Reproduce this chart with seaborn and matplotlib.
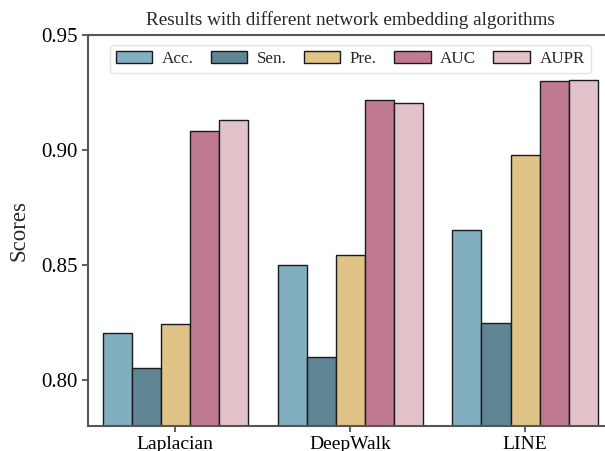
import matplotlib
matplotlib.use("Agg")
import matplotlib.pyplot as plt
import seaborn as sns
import pandas as pd

methods = ["Laplacian", "DeepWalk", "LINE"]
metrics = ["Acc.", "Sen.", "Pre.", "AUC", "AUPR"]
acc = [0.8203, 0.8502, 0.8653]
sen = [0.8051, 0.8101, 0.8248]
pre = [0.8243, 0.8545, 0.8977]
auc = [0.9084, 0.9218, 0.9298]
aupr = [0.9132, 0.9206, 0.9305]
colors = ["#82AFC0", "#608594", "#DFC387", "#C07A90", "#E2C2C9"]
yticks = [0.80, 0.85, 0.90, 0.95]

sns.set_theme(style="ticks")
plt.rcParams["font.family"] = ["Liberation Serif", "DejaVu Serif"]

rows = []
for name, vals in zip(metrics, [acc, sen, pre, auc, aupr]):
    for m, v in zip(methods, vals):
        rows.append({"Method": m, "Metric": name, "Score": v})
df = pd.DataFrame(rows)

fig = plt.figure(figsize=(6.05, 4.51), dpi=100)
ax = fig.add_axes([0.145, 0.0554, 0.8674, 0.8670])

sns.barplot(data=df, x="Method", y="Score", hue="Metric", palette=colors,
            saturation=1, width=0.83, gap=0, edgecolor="#1a1a1a",
            linewidth=1.0, errorbar=None, ax=ax)

ax.set_ylim(0.78, 0.95)
ax.set_xlim(-0.5, 2.5)
ax.set_yticks(yticks)
ax.set_yticklabels([f"{t:.2f}" for t in yticks])
ax.tick_params(axis="both", colors="#444444", length=4, width=1.2,
               labelcolor="black")
ax.tick_params(axis="y", labelsize=15)
ax.tick_params(axis="x", labelsize=14)
ax.set_xlabel("")
ax.set_ylabel("Scores", fontsize=16.5, labelpad=8)
ax.set_title("Results with different network embedding algorithms",
             fontsize=13.8, pad=7)
for s in ax.spines.values():
    s.set_color("#555555")
    s.set_linewidth(1.5)
ax.spines["right"].set_visible(False)

ax.legend(loc="upper center", ncol=5, fontsize=12.3, frameon=True,
          fancybox=True, edgecolor="#dddddd", handlelength=2.15,
          handleheight=0.7, handletextpad=0.55, columnspacing=1.0,
          borderpad=0.35, borderaxespad=0.6)

fig.savefig("out.png", dpi=100)
